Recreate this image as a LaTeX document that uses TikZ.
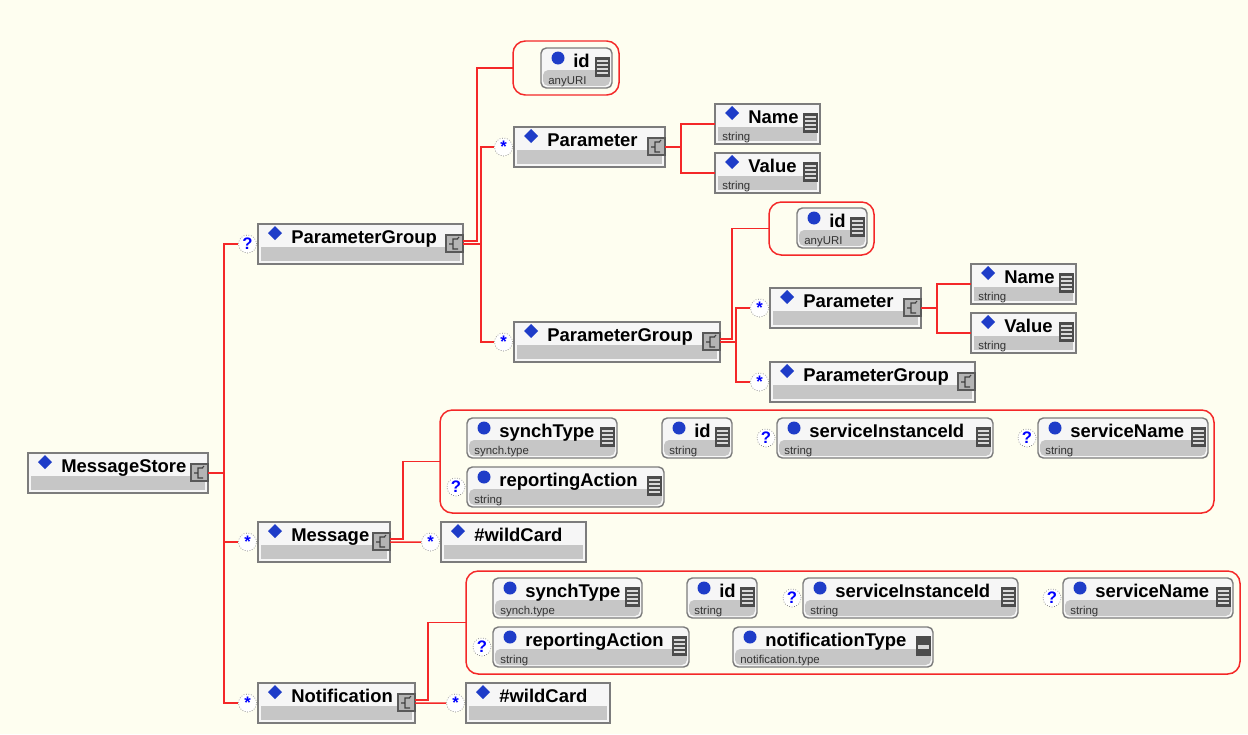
\documentclass[tikz,border=0pt]{standalone}
\usepackage{fontspec}
\setmainfont{Liberation Sans}
\usepackage{tikz}
\usetikzlibrary{positioning}

\definecolor{paper}{HTML}{FEFEF0}
\definecolor{wirered}{HTML}{F42828}
\definecolor{edge}{HTML}{7C7C7C}
\definecolor{boxtop}{HTML}{F6F6F6}
\definecolor{boxband}{HTML}{C6C6C6}
\definecolor{gemblue}{HTML}{1E3CC8}
\definecolor{darkicon}{HTML}{4C4C4C}
\definecolor{seqgray}{HTML}{B4B4B4}

\tikzset{
	box/.style={draw=edge,line width=0.8pt,fill=boxtop,anchor=north west,
		inner sep=0pt,outer sep=0pt,minimum height=0.8cm},
	elem/.style={box,path picture={\fill[boxband] ([shift={(3,23)}]path picture bounding box.north west)
		rectangle ([shift={(-3,-3)}]path picture bounding box.south east);}},
	attr/.style={box,rounded corners=3pt,path picture={\fill[boxband] ([shift={(2,22)}]path picture bounding box.north west)
		rectangle ([shift={(-2,-2)}]path picture bounding box.south east);}},
	group/.style={draw=wirered,line width=0.85pt,rounded corners=7pt,anchor=north west,
		inner sep=0pt,outer sep=0pt},
	wire/.style={draw=wirered,line width=0.85pt},
	occ/.style={circle,draw=edge,densely dotted,fill=white,inner sep=0pt,minimum size=0.36cm,
		text=blue,font=\bfseries\fontsize{9.5}{10}\selectfont},
	lbl/.style={anchor=base west,inner sep=0pt,font=\bfseries\fontsize{10.5}{12}\selectfont},
	kind/.style={anchor=base west,inner sep=0pt,font=\fontsize{6.5}{7}\selectfont,text=black!80},
	seqbox/.style={draw=black!65,fill=seqgray,line width=0.6pt},
	seqline/.style={draw=black!75,line width=0.6pt},
	listline/.style={draw=white!85!black,line width=0.7pt}
}

% complex element: id, x, y, width, label
\newcommand\elembox[5]{%
	\node[elem,minimum width=#4*0.02cm] (#1) at (#2,#3) {};
	\fill[gemblue] ([shift={(17,2)}]#1.north west) -- ++(7,7) -- ++(-7,7) -- ++(-7,-7) -- cycle;
	\node[lbl] (#1-lbl) at ([shift={(33,19)}]#1.north west) {#5};
}
% icon for elements with children
\newcommand\seqicon[1]{%
	\draw[seqbox] ([shift={(-17,11)}]#1.north east) rectangle ([shift={(0,28)}]#1.north east);
	\draw[seqline] ([shift={(-14,20)}]#1.north east) -- ++(3,0)
		([shift={(-5,15)}]#1.north east) -- ++(-5,0) -- ++(0,10) -- ++(5,0)
		([shift={(-6,15)}]#1.north east) -- ++(2,-2);
}
% icon for simple content
\newcommand\listicon[1]{%
	\fill[darkicon] ([shift={(-17,9)}]#1.north east) rectangle ([shift={(-2,29)}]#1.north east);
	\foreach \k in {13,17,21,25}
		\draw[listline] ([shift={(-15,\k)}]#1.north east) -- ++(11,0);
}
% element with a simple type: id, x, y, width, label, type
\newcommand\leafbox[6]{%
	\elembox{#1}{#2}{#3}{#4}{#5}
	\node[kind] (#1-kind) at ([shift={(7,36)}]#1.north west) {#6};
	\listicon{#1}
}
% attribute: id, x, y, width, label, type
\newcommand\attrbox[6]{%
	\node[attr,minimum width=#4*0.02cm] (#1) at (#2,#3) {};
	\fill[gemblue] ([shift={(17,10)}]#1.north west) circle[radius=0.13cm];
	\node[lbl] (#1-lbl) at ([shift={(32,19)}]#1.north west) {#5};
	\node[kind] (#1-kind) at ([shift={(7,36)}]#1.north west) {#6};
}

\begin{document}
\begin{tikzpicture}[x=0.02cm,y=-0.02cm]
	\fill[paper] (0,0) rectangle (1248,734);
	\useasboundingbox (0,0) rectangle (1248,734);

	% attribute groups
	\node[group,minimum width=106*0.02cm,minimum height=54*0.02cm] (idg1) at (513,41) {};
	\node[group,minimum width=105*0.02cm,minimum height=53*0.02cm] (idg2) at (769,202) {};
	\node[group,minimum width=774*0.02cm,minimum height=103*0.02cm] (msgg) at (440,410) {};
	\node[group,minimum width=774*0.02cm,minimum height=103*0.02cm] (ntfg) at (466,571) {};

	% elements
	\elembox{ms}{28}{453}{180}{MessageStore} \seqicon{ms}
	\elembox{pg1}{258}{224}{205}{ParameterGroup} \seqicon{pg1}
	\elembox{par1}{514}{127}{151}{Parameter} \seqicon{par1}
	\elembox{pg2}{514}{322}{206}{ParameterGroup} \seqicon{pg2}
	\elembox{par2}{770}{288}{151}{Parameter} \seqicon{par2}
	\elembox{pg3}{770}{362}{205}{ParameterGroup} \seqicon{pg3}
	\elembox{msg}{258}{522}{132}{Message} \seqicon{msg}
	\elembox{ntf}{258}{683}{157}{Notification} \seqicon{ntf}
	\elembox{wc1}{441}{522}{145}{\#wildCard}
	\elembox{wc2}{466}{683}{144}{\#wildCard}
	\leafbox{name1}{715}{104}{105}{Name}{string}
	\leafbox{value1}{715}{153}{105}{Value}{string}
	\leafbox{name2}{971}{264}{105}{Name}{string}
	\leafbox{value2}{971}{313}{105}{Value}{string}

	% attributes
	\attrbox{id1}{541}{48}{71}{id}{anyURI} \listicon{id1}
	\attrbox{id2}{797}{208}{70}{id}{anyURI} \listicon{id2}
	\attrbox{m-sync}{467}{418}{150}{synchType}{synch.type} \listicon{m-sync}
	\attrbox{m-id}{662}{418}{70}{id}{string} \listicon{m-id}
	\attrbox{m-sid}{777}{418}{216}{serviceInstanceId}{string} \listicon{m-sid}
	\attrbox{m-sn}{1038}{418}{170}{serviceName}{string} \listicon{m-sn}
	\attrbox{m-rep}{467}{467}{197}{reportingAction}{string} \listicon{m-rep}
	\attrbox{n-sync}{493}{578}{149}{synchType}{synch.type} \listicon{n-sync}
	\attrbox{n-id}{687}{578}{70}{id}{string} \listicon{n-id}
	\attrbox{n-sid}{803}{578}{215}{serviceInstanceId}{string} \listicon{n-sid}
	\attrbox{n-sn}{1063}{578}{170}{serviceName}{string} \listicon{n-sn}
	\attrbox{n-rep}{493}{627}{196}{reportingAction}{string} \listicon{n-rep}
	\attrbox{n-type}{733}{627}{200}{notificationType}{notification.type}
	\fill[darkicon] ([shift={(-17,9)}]n-type.north east) rectangle ([shift={(-2,29)}]n-type.north east);
	\fill[white!85!black] ([shift={(-15,18)}]n-type.north east) rectangle ([shift={(-4,22)}]n-type.north east);

	% occurrence marks
	\node[occ] (pg1-occ) at (247.5,244) {?};
	\node[occ] (msg-occ) at (247.5,542) {*};
	\node[occ] (ntf-occ) at (247.5,703) {*};
	\node[occ] (par1-occ) at (503.5,147) {*};
	\node[occ] (pg2-occ) at (503.5,342) {*};
	\node[occ] (par2-occ) at (759.5,308) {*};
	\node[occ] (pg3-occ) at (759.5,382) {*};
	\node[occ] (wc1-occ) at (430.5,542) {*};
	\node[occ] (wc2-occ) at (455.5,703) {*};
	\node[occ] (m-sid-occ) at (766,438) {?};
	\node[occ] (m-sn-occ) at (1027,438) {?};
	\node[occ] (m-rep-occ) at (456,487) {?};
	\node[occ] (n-sid-occ) at (792,598) {?};
	\node[occ] (n-sn-occ) at (1052,598) {?};
	\node[occ] (n-rep-occ) at (482,647) {?};

	% connectors
	\draw[wire] (ms.east) -- ++(16,0) coordinate (ms-fork);
	\draw[wire] (ms-fork) |- (pg1-occ.west);
	\draw[wire] (ms-fork) |- (msg-occ.west);
	\draw[wire] (ms-fork) |- (ntf-occ.west);

	\draw[wire] ([yshift=0.06cm]pg1.east) -- ++(14,0) |- (idg1.west);
	\draw[wire] (pg1.east) -- ++(18,0) coordinate (pg1-fork) |- (par1-occ.west);
	\draw[wire] (pg1-fork) |- (pg2-occ.west);

	\draw[wire] (par1.east) -- ++(16,0) coordinate (par1-fork) |- (name1.west);
	\draw[wire] (par1-fork) |- (value1.west);

	\draw[wire] ([yshift=0.06cm]pg2.east) -- ++(12,0) |- (idg2.west);
	\draw[wire] (pg2.east) -- ++(16,0) coordinate (pg2-fork) |- (par2-occ.west);
	\draw[wire] (pg2-fork) |- (pg3-occ.west);

	\draw[wire] (par2.east) -- ++(16,0) coordinate (par2-fork) |- (name2.west);
	\draw[wire] (par2-fork) |- (value2.west);

	\draw[wire] ([yshift=0.06cm]msg.east) -- ++(13,0) |- (msgg.west);
	\draw[wire] (msg.east) -- (wc1-occ.west);

	\draw[wire] ([yshift=0.06cm]ntf.east) -- ++(13,0) |- (ntfg.west);
	\draw[wire] (ntf.east) -- (wc2-occ.west);
\end{tikzpicture}
\end{document}
